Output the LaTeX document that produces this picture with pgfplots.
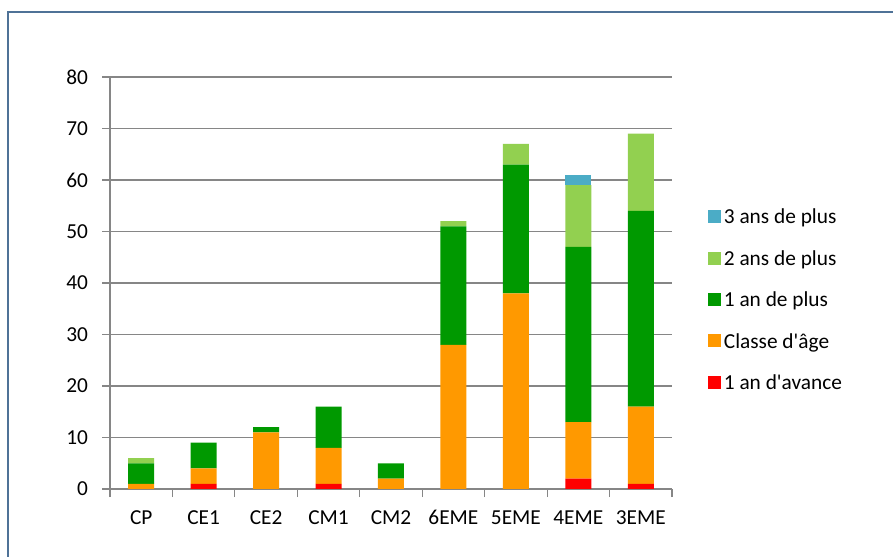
\documentclass[border=0pt]{standalone}
\usepackage{fontspec}
\setmainfont{Carlito}
\newfontfamily\calfont{Carlito}
\usepackage{pgfplots}
\pgfplotsset{compat=1.18}
\definecolor{cRed}{HTML}{FF0000}
\definecolor{cOrange}{HTML}{FF9900}
\definecolor{cGreen}{HTML}{009900}
\definecolor{cLight}{HTML}{92D050}
\definecolor{cBlue}{HTML}{4BACC6}
\definecolor{cGrid}{HTML}{868686}
\definecolor{cFrame}{HTML}{4F7297}
\begin{document}
\begin{tikzpicture}
\useasboundingbox (0pt,0pt) rectangle (669.75pt,417.75pt);
\draw[cFrame, line width=1.1pt] (6pt,0pt) -- (6pt,408.75pt) -- (669.75pt,408.75pt);
\begin{axis}[
  at={(82.5pt,51pt)}, anchor=south west,
  scale only axis, width=421.5pt, height=309pt,
  ybar stacked, bar width=19.5pt,
  xmin=-0.5, xmax=8.5, ymin=0, ymax=80,
  xtick={0,...,8},
  xticklabels={CP,CE1,CE2,CM1,CM2,6EME,5EME,4EME,3EME},
  minor xtick={-0.5,0.5,...,8.5},
  major x tick style={draw=none},
  minor tick length=6pt,
  ytick={0,10,...,80},
  major tick length=6pt,
  tick align=outside,
  xtick pos=bottom, ytick pos=left,
  axis x line*=bottom, axis y line*=left,
  axis line style={cGrid, line width=0.9pt, -},
  tick style={cGrid, line width=0.9pt},
  ymajorgrids, grid style={cGrid, line width=0.9pt},
  /pgf/number format/assume math mode=true,
  tick label style={font=\calfont\fontsize{16}{18}\selectfont, text=black},
  yticklabel style={xshift=-7pt},
  xticklabel style={yshift=-6.5pt},
  reverse legend,
  legend style={at={(1.064,0.686)}, anchor=north west, draw=none, fill=none,
    font=\calfont\fontsize{16}{18}\selectfont, row sep=13.1pt, inner sep=0pt,
    nodes={inner sep=2pt, text height=11pt, text depth=3pt}},
  legend cell align=left,
  legend image code/.code={\fill[#1] (0.5pt,-3.3pt) rectangle (10.25pt,6.45pt);},
]
\addplot[fill=cRed, draw=none] coordinates {(0,0) (1,1) (2,0) (3,1) (4,0) (5,0) (6,0) (7,2) (8,1)};
\addplot[fill=cOrange, draw=none] coordinates {(0,1) (1,3) (2,11) (3,7) (4,2) (5,28) (6,38) (7,11) (8,15)};
\addplot[fill=cGreen, draw=none] coordinates {(0,4) (1,5) (2,1) (3,8) (4,3) (5,23) (6,25) (7,34) (8,38)};
\addplot[fill=cLight, draw=none] coordinates {(0,1) (1,0) (2,0) (3,0) (4,0) (5,1) (6,4) (7,12) (8,15)};
\addplot[fill=cBlue, draw=none] coordinates {(0,0) (1,0) (2,0) (3,0) (4,0) (5,0) (6,0) (7,2) (8,0)};
\legend{1 an d'avance, Classe d'âge, 1 an de plus, 2 ans de plus, 3 ans de plus}
\end{axis}
\end{tikzpicture}
\end{document}
